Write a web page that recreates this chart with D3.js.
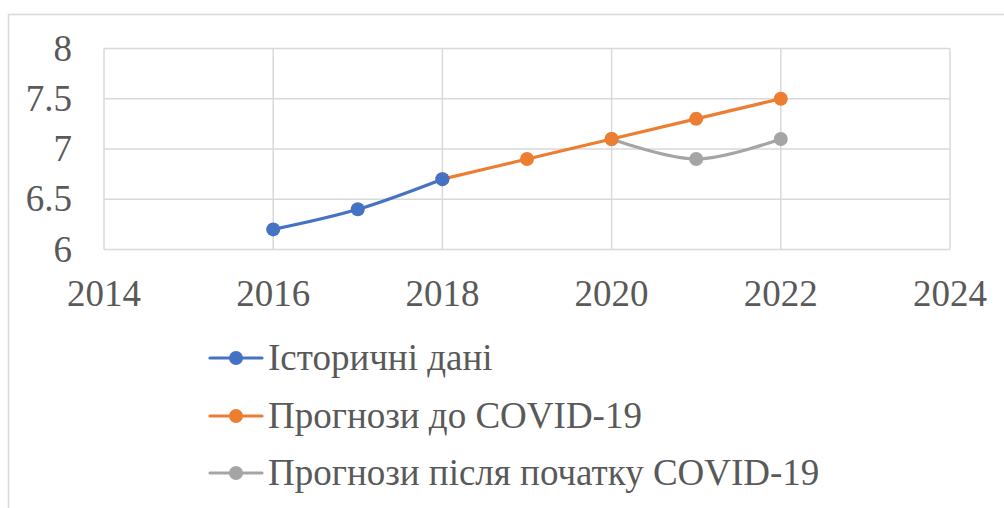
<!DOCTYPE html>
<html>
<head>
<meta charset="utf-8">
<script src="https://cdn.jsdelivr.net/npm/d3@7"></script>
<style>
  body { margin: 0; background: #fff; }
  svg { display: block; }
</style>
</head>
<body>
<div id="chart"></div>
<script>
const width = 1004
const height = 508

// data
const histYears = [2016, 2017, 2018]
const histValues = [6.2, 6.4, 6.7]
const preYears = [2018, 2019, 2020, 2021, 2022]
const preValues = [6.7, 6.9, 7.1, 7.3, 7.5]
const postYears = [2020, 2021, 2022]
const postValues = [7.1, 6.9, 7.1]
const xTicks = [2014, 2016, 2018, 2020, 2022, 2024]
const yTicks = [6, 6.5, 7, 7.5, 8]
const seriesNames = ['Історичні дані', 'Прогнози до COVID-19', 'Прогнози після початку COVID-19']
const colors = ['#4472c4', '#ed7d31', '#a5a5a5']

const series = [
    histYears.map((d, i) => ({ x: d, y: histValues[i] })),
    preYears.map((d, i) => ({ x: d, y: preValues[i] })),
    postYears.map((d, i) => ({ x: d, y: postValues[i] }))
];

const fontFamily = 'Times New Roman';
const fontSize = 37;
const textColor = '#595959';
const gridColor = '#d9d9d9';

const svg = d3.select('#chart').append('svg')
    .attr('width', width)
    .attr('height', height);

// outer chart border (cropped on right and bottom)
svg.append('rect')
    .attr('x', 8.5).attr('y', 14.5)
    .attr('width', width + 10).attr('height', height + 10)
    .attr('fill', 'none')
    .attr('stroke', gridColor)
    .attr('stroke-width', 1.5);

const x = d3.scaleLinear().domain([2014, 2024]).range([104, 950]);
const y = d3.scaleLinear().domain([6, 8]).range([249.5, 48.5]);

// gridlines
svg.append('g')
    .selectAll('line')
    .data(yTicks)
    .join('line')
    .attr('x1', x(2014)).attr('x2', x(2024))
    .attr('y1', d => y(d)).attr('y2', d => y(d))
    .attr('stroke', gridColor).attr('stroke-width', 1.5);

svg.append('g')
    .selectAll('line')
    .data(xTicks)
    .join('line')
    .attr('x1', d => x(d)).attr('x2', d => x(d))
    .attr('y1', y(6)).attr('y2', y(8))
    .attr('stroke', gridColor).attr('stroke-width', 1.5);

// tick labels
svg.append('g')
    .selectAll('text')
    .data(yTicks)
    .join('text')
    .attr('x', 72)
    .attr('y', d => y(d) + 12)
    .attr('text-anchor', 'end')
    .style('font-family', fontFamily)
    .attr('font-size', fontSize)
    .attr('fill', textColor)
    .text(d => d);

svg.append('g')
    .selectAll('text')
    .data(xTicks)
    .join('text')
    .attr('x', d => x(d))
    .attr('y', 306)
    .attr('text-anchor', 'middle')
    .style('font-family', fontFamily)
    .attr('font-size', fontSize)
    .attr('fill', textColor)
    .text(d => d);

// lines
const line = d3.line()
    .x(d => x(d.x))
    .y(d => y(d.y))
    .curve(d3.curveCatmullRom.alpha(0));

// draw back to front: post-covid, pre-covid, historical on top
[2, 1, 0].forEach(function (i) {
    const g = svg.append('g');
    g.append('path')
        .datum(series[i])
        .attr('d', line)
        .attr('fill', 'none')
        .attr('stroke', colors[i])
        .attr('stroke-width', 3.2)
        .attr('stroke-linecap', 'round');
    g.selectAll('circle')
        .data(series[i])
        .join('circle')
        .attr('cx', d => x(d.x))
        .attr('cy', d => y(d.y))
        .attr('r', 7)
        .attr('fill', colors[i]);
});

// legend
const legendY = [358, 416, 473];
const legend = svg.append('g')
    .selectAll('g')
    .data(seriesNames)
    .join('g')
    .attr('transform', (d, i) => `translate(0,${legendY[i]})`);

legend.append('line')
    .attr('x1', 210).attr('x2', 262)
    .attr('y1', 0).attr('y2', 0)
    .attr('stroke', (d, i) => colors[i])
    .attr('stroke-width', 3.2)
    .attr('stroke-linecap', 'round');

legend.append('circle')
    .attr('cx', 236).attr('cy', 0)
    .attr('r', 7)
    .attr('fill', (d, i) => colors[i]);

legend.append('text')
    .attr('x', 268)
    .attr('y', 12)
    .style('font-family', fontFamily)
    .attr('font-size', fontSize)
    .attr('fill', textColor)
    .text(d => d);
</script>
</body>
</html>
